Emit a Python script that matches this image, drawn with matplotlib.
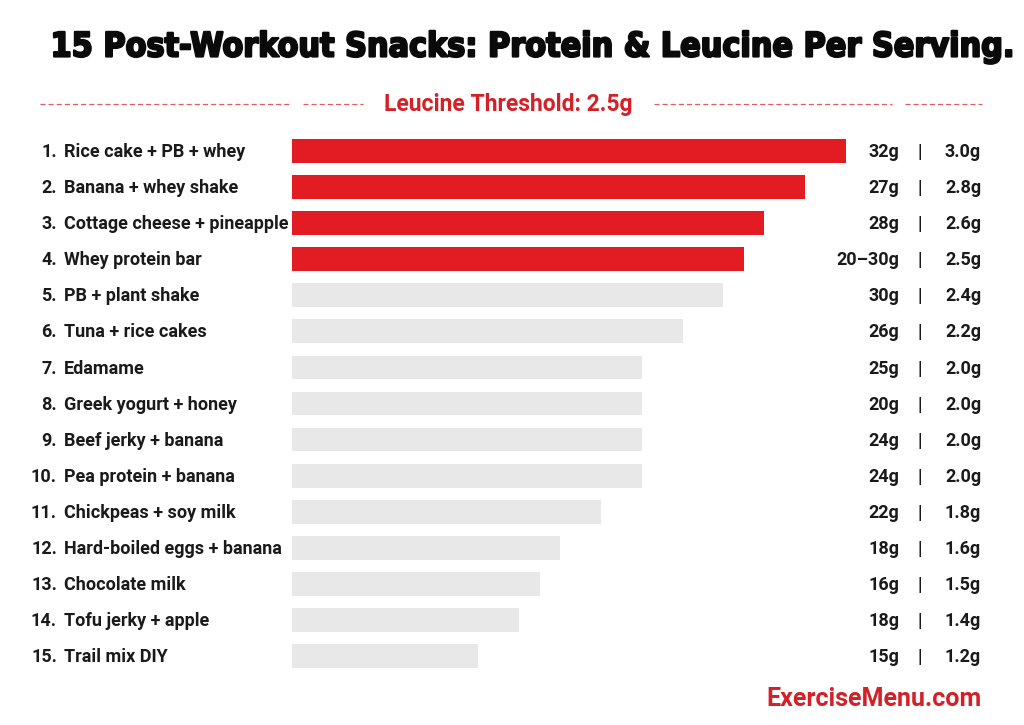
import matplotlib
matplotlib.use("Agg")
import matplotlib.pyplot as plt
from matplotlib import transforms
import matplotlib.patheffects as pe

snacks = ["Rice cake + PB + whey", "Banana + whey shake", "Cottage cheese + pineapple",
          "Whey protein bar", "PB + plant shake", "Tuna + rice cakes", "Edamame",
          "Greek yogurt + honey", "Beef jerky + banana", "Pea protein + banana",
          "Chickpeas + soy milk", "Hard-boiled eggs + banana", "Chocolate milk",
          "Tofu jerky + apple", "Trail mix DIY"]
protein = ["32g", "27g", "28g", "20\u201330g", "30g", "26g", "25g", "20g", "24g", "24g",
           "22g", "18g", "16g", "18g", "15g"]
leucine = [3.0, 2.8, 2.6, 2.5, 2.4, 2.2, 2.0, 2.0, 2.0, 2.0, 1.8, 1.6, 1.5, 1.4, 1.2]
threshold = 2.5

title = "15 Post-Workout Snacks: Protein & Leucine Per Serving."
threshold_label = "Leucine Threshold: 2.5g"
source = "ExerciseMenu.com"

RED = "#e31b23"
GRAY = "#e8e8e8"
TXT = "#1a1a1a"

W, H = 1024, 725
fig = plt.figure(figsize=(W / 100, H / 100), dpi=100)
fig.patch.set_facecolor("white")

def fx(px):
    return px / W

def fy(py):
    return 1 - py / H

ax = fig.add_axes([fx(292), fy(674), fx(982) - fx(292), fy(133) - fy(674)])
ypos = list(range(len(snacks)))
colors = [RED if v >= threshold else GRAY for v in leucine]
ax.barh(ypos, leucine, height=0.66, color=colors, edgecolor="none")
ax.set_xlim(0.289, 3.665)
ax.set_ylim(len(snacks) - 0.5, -0.5)
ax.axis("off")

FS = 13
tr = transforms.blended_transform_factory(fig.transFigure, ax.transData)
for i, name in enumerate(snacks):
    y = i + 0.03
    fig.text(fx(57), y, f"{i + 1}.", transform=tr, ha="right", va="center",
             fontsize=FS, fontweight="bold", family="Roboto", color=TXT)
    fig.text(fx(64), y, name, transform=tr, ha="left", va="center",
             fontsize=FS, fontweight="bold", family="Roboto", color=TXT)
    fig.text(fx(899), y, protein[i], transform=tr, ha="right", va="center",
             fontsize=FS, fontweight="bold", family="Roboto", color=TXT)
    fig.text(fx(920), y, "|", transform=tr, ha="center", va="center",
             fontsize=FS, fontweight="bold", family="Roboto", color=TXT)
    fig.text(fx(981), y, f"{leucine[i]:.1f}g", transform=tr, ha="right", va="center",
             fontsize=FS, fontweight="bold", family="Roboto", color=TXT)

t = fig.text(fx(532), fy(47), title, ha="center", va="center", fontsize=30,
             fontweight="bold", family="DejaVu Sans", fontstretch="condensed", color="#0a0a0a")
r = fig.canvas.get_renderer()
w = t.get_window_extent(r).width
t.set_fontsize(30 * 962 / w)
t.set_path_effects([pe.withStroke(linewidth=1.6, foreground="#0a0a0a")])

fig.text(fx(508), fy(104), threshold_label, ha="center", va="center", fontsize=16.5,
         fontweight="bold", family="Roboto", color="#d42027")

for x0, x1 in [(40, 290), (303, 363), (654, 892), (905, 982)]:
    fig.add_artist(plt.Line2D([fx(x0), fx(x1)], [fy(104), fy(104)], transform=fig.transFigure,
                              color="#e05a5f", lw=0.9, linestyle=(0, (4, 2.5))))

fig.text(fx(982), fy(699), source, ha="right", va="center", fontsize=18,
         fontweight="bold", family="Roboto", color="#d42027")

fig.savefig("out.png", dpi=100, facecolor="white")
